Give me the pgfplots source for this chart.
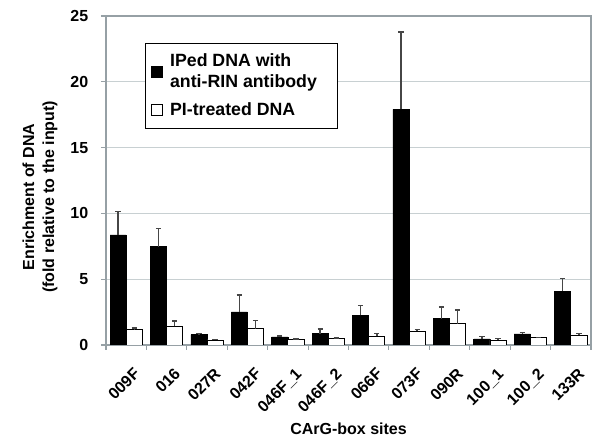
\documentclass[border=0pt]{standalone}
\usepackage{fontspec}
\setmainfont{Liberation Sans}
\usepackage{pgfplots}
\pgfplotsset{compat=1.18}
\definecolor{gridc}{RGB}{200,208,210}
\definecolor{axc}{RGB}{150,160,165}
\definecolor{errc}{RGB}{70,70,70}
\begin{document}
\begin{tikzpicture}
\useasboundingbox (-79.5pt,-70.5pt) rectangle (370.5pt,258.75pt);
\begin{axis}[
  width=363.75pt, height=246.75pt, scale only axis,
  xmin=-0.5, xmax=11.5, ymin=0, ymax=25,
  ytick={0,5,...,25},
  ymajorgrids, grid style={gridc, line width=0.8pt},
  axis line style={axc, line width=0.8pt},
  xtick={0,...,11},
  xticklabels={009F,016,027R,042F,046F\_1,046F\_2,066F,073F,090R,100\_1,100\_2,133R},
  minor xtick={-0.5,0.5,...,11.5},
  major x tick style={draw=none},
  minor x tick style={axc, line width=0.8pt},
  major y tick style={axc, line width=0.8pt},
  major tick length=3.75pt, minor tick length=3.75pt,
  tick align=outside, tick pos=left,
  /pgf/number format/assume math mode=true,
  tick label style={font=\bfseries\fontsize{12}{14}\selectfont},
  yticklabel style={xshift=-6pt},
  xticklabel style={rotate=45, anchor=north east, yshift=-9pt, xshift=-2pt},
  ylabel={Enrichment of DNA\\(fold relative to the input)},
  ylabel style={font=\bfseries\fontsize{12}{15}\selectfont, align=center, at={(axis description cs:-0.136,0.45)}, anchor=center},
  xlabel={CArG-box sites},
  xlabel style={font=\bfseries\fontsize{12}{14}\selectfont, at={(axis description cs:0.5,-0.256)}, anchor=center},
  legend style={at={(0.08,0.918)}, anchor=north west, draw=black, line width=0.6pt,
    font=\bfseries\fontsize{13.3}{15.5}\selectfont, cells={align=left}, row sep=6pt, inner xsep=4pt, inner ysep=6pt},
  legend cell align=left,
]
\addplot[ybar, bar width=0.4, bar shift=0pt, fill=black, draw=black, line width=0.5pt,
  legend image code/.code={\draw[fill=black,draw=black] (0pt,-4.2pt) rectangle (8.4pt,4.2pt); \path (12pt,0pt);},
  error bars/.cd, y dir=plus, y explicit,
  error bar style={errc, line width=1.1pt},
  error mark options={rotate=90, errc, mark size=2pt, line width=1.1pt}]
coordinates {
(-0.2,8.37) +- (0,1.76)
(0.8,7.48) +- (0,1.38)
(1.8,0.79) +- (0,0.10)
(2.8,2.52) +- (0,1.27)
(3.8,0.61) +- (0,0.08)
(4.8,0.87) +- (0,0.33)
(5.8,2.26) +- (0,0.74)
(6.8,17.9) +- (0,5.9)
(7.8,2.0) +- (0,0.9)
(8.8,0.46) +- (0,0.2)
(9.8,0.84) +- (0,0.1)
(10.8,4.1) +- (0,0.94)
};
\addlegendentry{IPed DNA with\\anti-RIN antibody\rule{9pt}{0pt}}
\addplot[ybar, bar width=0.4, bar shift=0pt, fill=white, draw=black, line width=0.6pt,
  legend image code/.code={\draw[fill=white,draw=black,line width=0.8pt] (0pt,-4.2pt) rectangle (8.4pt,4.2pt); \path (12pt,0pt);},
  error bars/.cd, y dir=plus, y explicit,
  error bar style={errc, line width=1.1pt},
  error mark options={rotate=90, errc, mark size=2pt, line width=1.1pt}]
coordinates {
(0.2,1.17) +- (0,0.13)
(1.2,1.42) +- (0,0.41)
(2.2,0.38) +- (0,0.05)
(3.2,1.25) +- (0,0.61)
(4.2,0.41) +- (0,0.05)
(5.2,0.48) +- (0,0.05)
(6.2,0.66) +- (0,0.21)
(7.2,1.05) +- (0,0.12)
(8.2,1.63) +- (0,1.04)
(9.2,0.38) +- (0,0.12)
(10.2,0.56) +- (0,0.02)
(11.2,0.76) +- (0,0.13)
};
\addlegendentry{PI-treated DNA}
\end{axis}
\end{tikzpicture}
\end{document}
